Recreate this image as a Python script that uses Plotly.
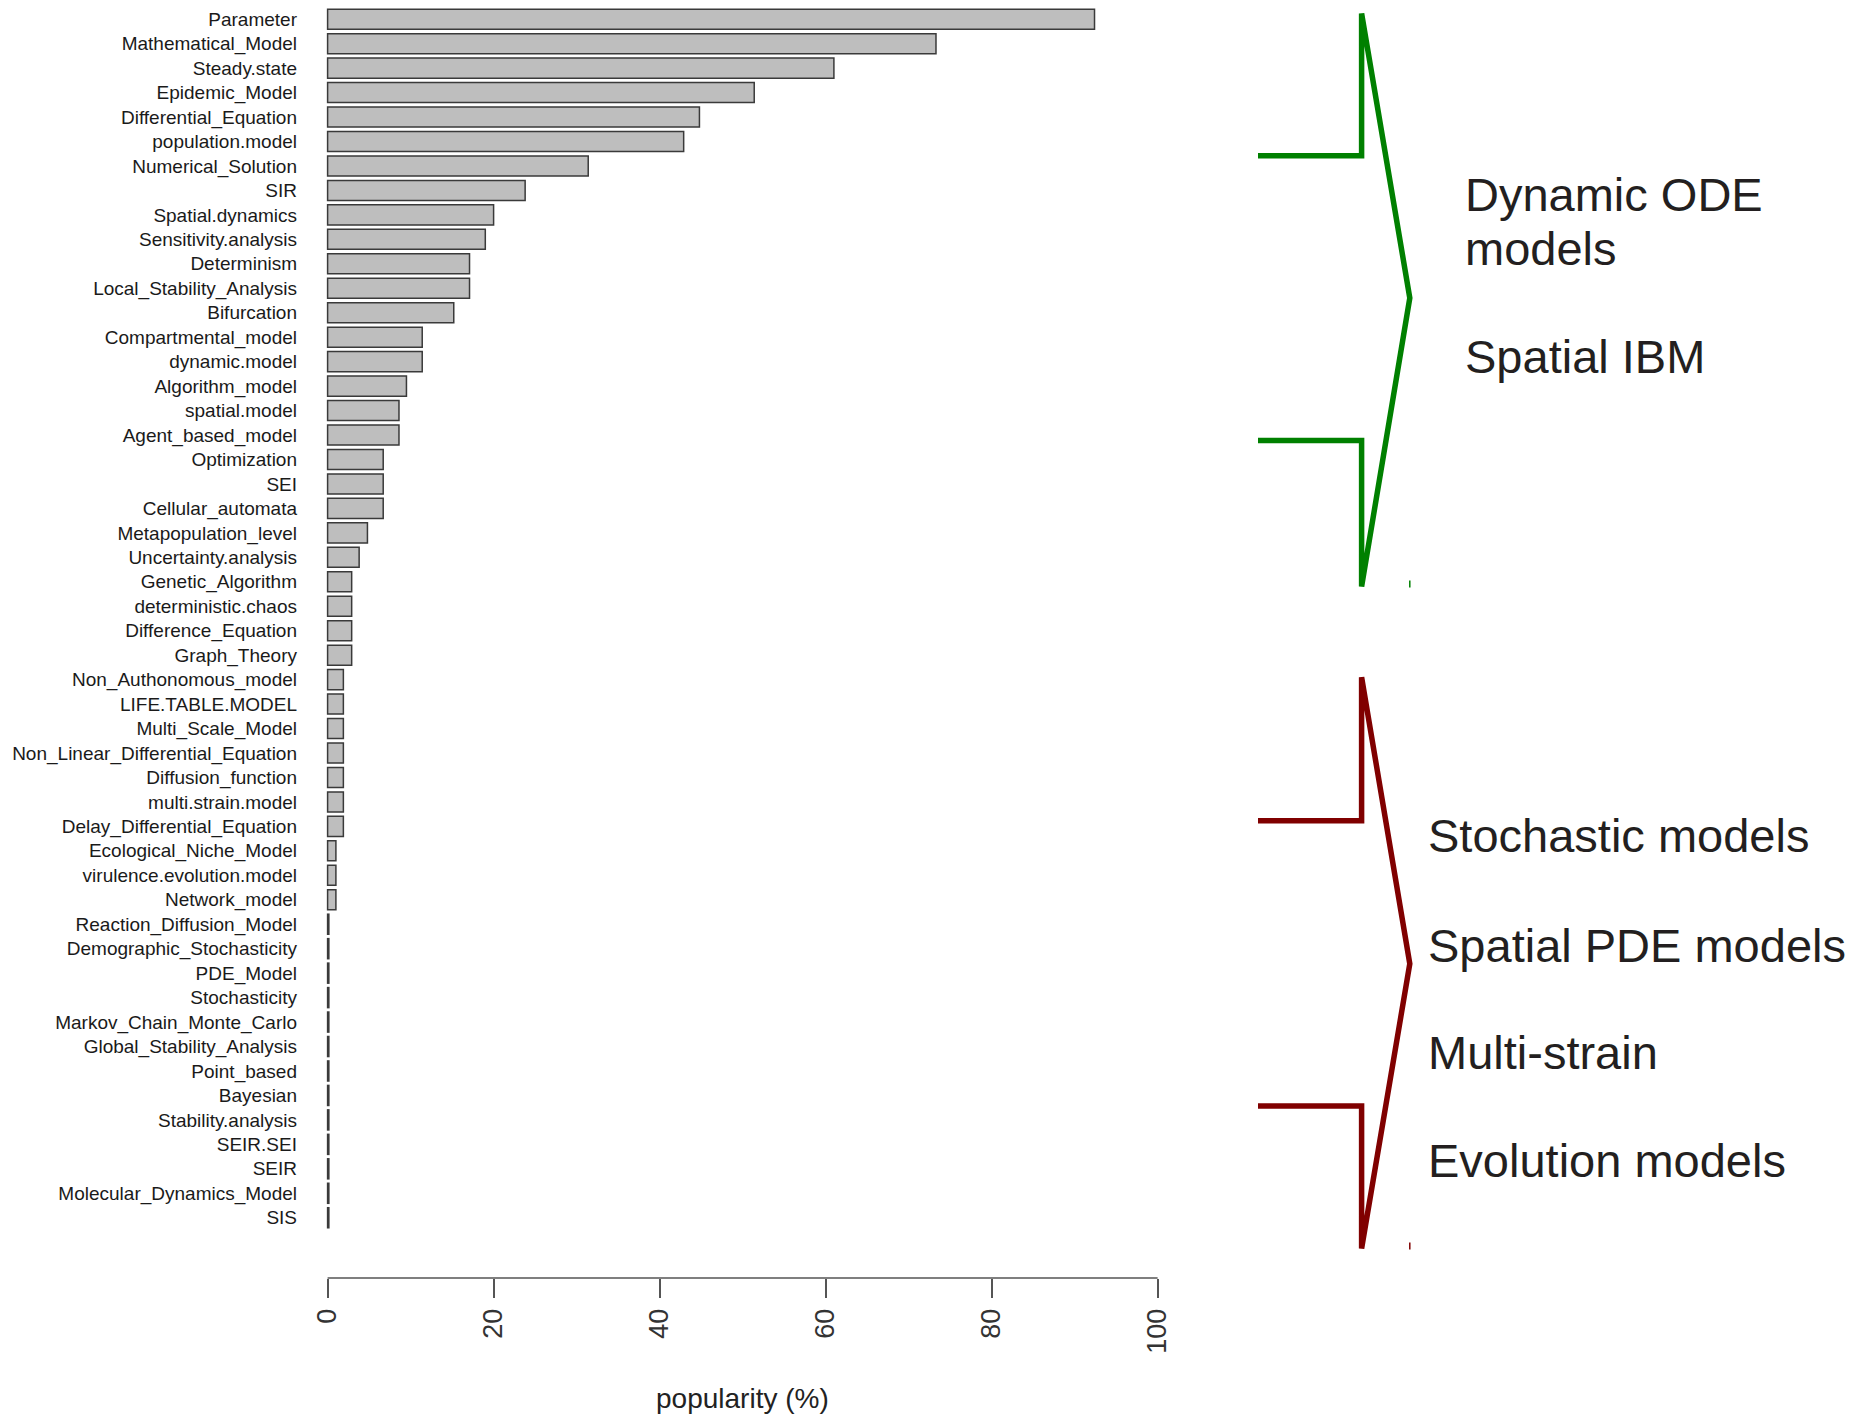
import plotly.graph_objects as go

W, H = 1859, 1414

# ---------------- data ----------------
categories = [
    "Parameter", "Mathematical_Model", "Steady.state", "Epidemic_Model",
    "Differential_Equation", "population.model", "Numerical_Solution", "SIR",
    "Spatial.dynamics", "Sensitivity.analysis", "Determinism",
    "Local_Stability_Analysis", "Bifurcation", "Compartmental_model",
    "dynamic.model", "Algorithm_model", "spatial.model", "Agent_based_model",
    "Optimization", "SEI", "Cellular_automata", "Metapopulation_level",
    "Uncertainty.analysis", "Genetic_Algorithm", "deterministic.chaos",
    "Difference_Equation", "Graph_Theory", "Non_Authonomous_model",
    "LIFE.TABLE.MODEL", "Multi_Scale_Model", "Non_Linear_Differential_Equation",
    "Diffusion_function", "multi.strain.model", "Delay_Differential_Equation",
    "Ecological_Niche_Model", "virulence.evolution.model", "Network_model",
    "Reaction_Diffusion_Model", "Demographic_Stochasticity", "PDE_Model",
    "Stochasticity", "Markov_Chain_Monte_Carlo", "Global_Stability_Analysis",
    "Point_based", "Bayesian", "Stability.analysis", "SEIR.SEI", "SEIR",
    "Molecular_Dynamics_Model", "SIS",
]
popularity = [
    92.4, 73.3, 61.0, 51.4, 44.8, 42.9, 31.4, 23.8, 20.0, 19.0,
    17.1, 17.1, 15.2, 11.4, 11.4, 9.5, 8.6, 8.6, 6.7, 6.7,
    6.7, 4.8, 3.8, 2.9, 2.9, 2.9, 2.9, 1.9, 1.9, 1.9,
    1.9, 1.9, 1.9, 1.9, 1.0, 1.0, 1.0, 0, 0, 0,
    0, 0, 0, 0, 0, 0, 0, 0, 0, 0,
]
x_tickvals = [0, 20, 40, 60, 80, 100]
x_ticktext = ["0", "20", "40", "60", "80", "100"]
x_title = "popularity (%)"

ode_group = ["Dynamic ODE", "models", "Spatial IBM"]
stoch_group = ["Stochastic models", "Spatial PDE models", "Multi-strain", "Evolution models"]

# ---------------- helpers (pixel -> paper) ----------------
def X(px):
    return px / W

def Y(py):
    return 1 - py / H

# zero-count terms are still drawn as a hairline bar (as in the original)
shown = [v if v > 0 else 0.15 for v in popularity]

fig = go.Figure()
fig.add_trace(go.Bar(
    x=shown, y=categories, orientation="h",
    marker=dict(color="#bebebe", line=dict(color="#3a3a3a", width=1.5)),
    hovertext=[f"{c}: {v}%" for c, v in zip(categories, popularity)],
    hoverinfo="text",
))

px_per_unit = 8.3
x0_px = 327.6
left_px, right_px = 298.0, 1190.8
xr = [(left_px - x0_px) / px_per_unit, (right_px - x0_px) / px_per_unit]
plot_bottom = 1278.0
pitch = 24.46
first_center = 19.2
yr = [(plot_bottom - first_center) / pitch, (0 - first_center) / pitch]

fig.update_layout(
    width=W, height=H,
    margin=dict(l=0, r=0, t=0, b=0),
    paper_bgcolor="white", plot_bgcolor="white",
    showlegend=False,
    bargap=0.18,
    font=dict(family="Liberation Sans, Arial, sans-serif", color="#1a1a1a"),
    xaxis=dict(
        domain=[X(left_px), X(right_px)], range=xr,
        tickvals=x_tickvals, ticktext=x_ticktext, tickangle=-90,
        ticks="outside", ticklen=19, tickwidth=1.5, tickcolor="#555",
        tickfont=dict(size=27, color="#333"),
        showgrid=False, zeroline=False, showline=False, automargin=False,
    ),
    yaxis=dict(
        domain=[Y(plot_bottom), 1], range=yr, type="category",
        tickfont=dict(size=19, color="#1a1a1a"),
        ticks="", showgrid=False, zeroline=False, showline=False, automargin=False,
    ),
)

# x axis line only from 0 to 100
fig.add_shape(type="line", xref="x", yref="paper", x0=0, x1=100,
              y0=Y(plot_bottom), y1=Y(plot_bottom),
              line=dict(color="#555", width=1.5))

# axis title
fig.add_annotation(text=x_title, xref="paper", yref="paper",
                   x=X(742), y=Y(1398), xanchor="center", yanchor="middle",
                   showarrow=False, font=dict(size=28, color="#222"))

# ---------------- brackets ----------------
def bracket(top, upper_h, tip, lower_h, bottom, color):
    xs, xv, xt = 1258, 1361.6, 1409.8
    path = (f"M {X(xs)},{Y(upper_h)} L {X(xv)},{Y(upper_h)} L {X(xv)},{Y(top)} "
            f"L {X(xt)},{Y(tip)} L {X(xv)},{Y(bottom)} L {X(xv)},{Y(lower_h)} "
            f"L {X(xs)},{Y(lower_h)}")
    fig.add_shape(type="path", xref="paper", yref="paper", path=path,
                  line=dict(color=color, width=5.5))
    fig.add_shape(type="line", xref="paper", yref="paper",
                  x0=X(xt), x1=X(xt), y0=Y(bottom - 6), y1=Y(bottom + 1),
                  line=dict(color=color, width=1.5))

bracket(13.5, 155.8, 298, 440.4, 586.5, "#008000")
bracket(677.3, 820.8, 963.8, 1106, 1248.5, "#800000")

FS = 47
def label(text, x_px, baseline_px):
    fig.add_annotation(text=text, xref="paper", yref="paper",
                       x=X(x_px), y=Y(baseline_px - 0.36 * FS),
                       xanchor="left", yanchor="middle", showarrow=False,
                       font=dict(size=FS, color="#231f20"))

for t, b in zip(ode_group, [211.5, 265.4, 373]):
    label(t, 1463, b)
for t, b in zip(stoch_group, [852.3, 962, 1069.6, 1177.3]):
    label(t, 1425.5, b)

fig.write_html("out.html", config={"displayModeBar": False},
               post_script="document.body.style.margin='0';document.body.style.overflow='hidden';")
